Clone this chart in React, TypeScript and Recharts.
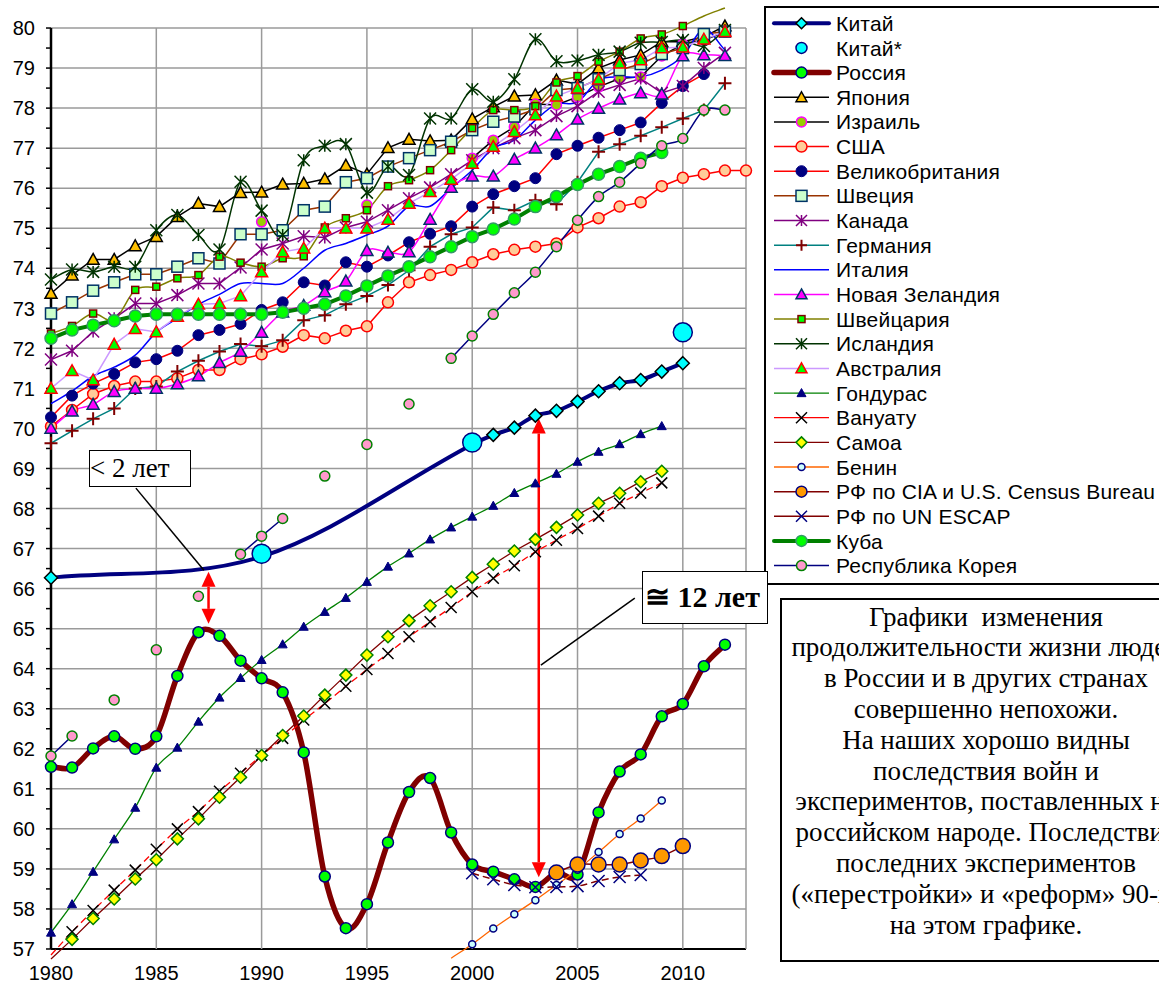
import React from "react";
import { LineChart, Line, XAxis, YAxis, CartesianGrid, ReferenceLine } from "recharts";

const FONT_SANS = "'Liberation Sans', Arial, sans-serif";
const FONT_SERIF = "'Liberation Serif', 'Times New Roman', serif";

const n = null;

// 1980 .. 2013
const YEARS = [
  1980, 1981, 1982, 1983, 1984, 1985, 1986, 1987, 1988, 1989,
  1990, 1991, 1992, 1993, 1994, 1995, 1996, 1997, 1998, 1999,
  2000, 2001, 2002, 2003, 2004, 2005, 2006, 2007, 2008, 2009,
  2010, 2011, 2012, 2013,
];

const CHINA = [66.27, n, n, n, n, n, n, n, n, n, 66.8, n, n, n, n, n, n, n, n, n, 69.6, 69.84, 70.02, 70.32, 70.44, 70.67, 70.93, 71.13, 71.21, 71.42, 71.63, n, n, n];
const CHINA_STAR = [n, n, n, n, n, n, n, n, n, n, 66.87, n, n, n, n, n, n, n, n, n, 69.65, n, n, n, n, n, n, n, n, n, 72.4, n, n, n];
const RUSSIA = [61.55, 61.53, 62.01, 62.31, 62.0, 62.31, 63.82, 64.91, 64.82, 64.2, 63.76, 63.41, 61.91, 58.81, 57.52, 58.12, 59.66, 60.92, 61.27, 59.91, 59.11, 58.93, 58.74, 58.55, 58.9, 58.86, 60.41, 61.43, 61.86, 62.81, 63.12, 64.06, 64.6, n];
const JAPAN = [73.37, 73.83, 74.22, 74.22, 74.56, 74.79, 75.29, 75.62, 75.54, 75.89, 75.9, 76.1, 76.12, 76.23, 76.57, 76.35, 77.01, 77.22, 77.18, 77.2, 77.73, 78.03, 78.3, 78.33, 78.7, 78.6, 79.0, 79.2, 79.33, 79.66, 79.66, 79.78, 80.05, n];
const ISRAEL = [n, n, n, n, n, n, n, n, n, n, 75.16, n, n, n, n, 75.58, n, n, n, n, 76.75, 77.2, 77.53, 78.1, 78.08, 78.28, 78.53, 78.74, 78.78, 79.3, 79.6, 79.7, 79.9, n];
const USA = [70.05, 70.46, 70.86, 71.06, 71.17, 71.17, 71.25, 71.46, 71.46, 71.73, 71.85, 72.04, 72.33, 72.25, 72.44, 72.55, 73.15, 73.65, 73.83, 73.96, 74.15, 74.35, 74.46, 74.54, 74.62, 75.02, 75.25, 75.54, 75.65, 76.05, 76.26, 76.35, 76.44, 76.44];
const UK = [70.28, 70.82, 71.12, 71.36, 71.65, 71.73, 71.94, 72.33, 72.46, 72.61, 72.96, 73.15, 73.65, 73.57, 74.15, 74.04, 74.32, 74.65, 74.86, 75.05, 75.54, 75.85, 76.05, 76.25, 76.85, 77.06, 77.26, 77.45, 77.64, 78.13, 78.55, 78.85, n, n];
const SWEDEN = [72.87, 73.15, 73.44, 73.65, 73.85, 73.85, 74.04, 74.25, 74.12, 74.85, 74.85, 74.95, 75.45, 75.54, 76.15, 76.25, 76.54, 76.75, 76.95, 77.16, 77.45, 77.66, 77.79, 77.97, 78.45, 78.5, 78.72, 78.95, 79.1, 79.35, 79.5, 79.85, 79.91, n];
const CANADA = [71.72, 71.94, 72.42, 72.75, 73.12, 73.12, 73.33, 73.62, 73.62, 74.02, 74.47, 74.62, 74.8, 74.77, 75.02, 75.16, 75.45, 75.75, 76.02, 76.35, 76.7, 77.0, 77.25, 77.45, 77.8, 78.05, 78.41, 78.58, 78.74, 78.38, 78.55, 79.0, 79.38, n];
const GERMANY = [69.63, 69.94, 70.24, 70.5, 71.0, 71.05, 71.42, 71.69, 71.92, 72.11, 72.05, 72.2, 72.7, 72.83, 73.1, 73.31, 73.58, 73.95, 74.54, 74.85, 75.02, 75.52, 75.45, 75.7, 75.6, 76.15, 76.91, 77.1, 77.31, 77.52, 77.74, 77.95, 78.62, n];
const ITALY = [70.62, 70.93, 71.31, 71.53, 71.83, 72.4, 72.75, 73.1, 73.35, 73.62, 73.62, 73.62, 74.0, 74.45, 74.62, 74.83, 75.05, 75.55, 75.55, 76.0, 76.45, 77.0, 77.2, 77.7, 78.1, 78.15, 78.7, 78.78, 78.78, 78.95, 79.3, 79.97, 79.45, n];
const NEW_ZEALAND = [70.0, 70.43, 70.6, 70.92, 71.0, 71.0, 71.11, 71.31, 71.64, 71.92, 72.4, 72.9, 73.07, 73.41, 73.68, 74.44, 74.4, 74.41, 75.22, 76.02, 76.3, 76.3, 76.72, 77.0, 77.33, 77.72, 77.99, 78.22, 78.38, 78.35, 79.3, 79.33, 79.31, n];
const SWISS = [72.37, 72.56, 72.87, 72.71, 73.46, 73.54, 73.75, 73.83, 74.29, 74.14, 74.04, 74.25, 74.3, 75.02, 75.25, 75.45, 76.05, 76.2, 76.45, 76.95, 77.5, 77.95, 77.95, 78.05, 78.64, 78.8, 79.16, 79.41, 79.74, 79.84, 80.05, 80.3, 80.5, n];
const ICELAND = [73.72, 73.97, 73.91, 74.04, 74.04, 74.95, 75.33, 74.83, 74.47, 76.16, 75.44, 74.83, 76.7, 77.06, 77.1, 75.89, 76.54, 76.33, 77.74, 77.74, 78.47, 78.16, 78.72, 79.72, 79.17, 79.19, 79.33, 79.41, 79.63, 79.65, 79.7, 79.55, 79.95, n];
const AUSTRALIA = [71.0, 71.44, 71.21, 72.1, 72.49, 72.41, 72.8, 73.1, 73.12, 73.31, 73.91, 74.41, 74.5, 75.0, 75.0, 75.0, 75.22, 75.62, 75.91, 76.22, 76.62, 77.04, 77.41, 77.83, 78.3, 78.5, 78.72, 79.12, 79.2, 79.5, 79.52, 79.72, 79.91, n];
const HONDURAS = [57.41, 58.12, 58.93, 59.74, 60.53, 61.53, 62.03, 62.68, 63.28, 63.77, 64.22, 64.61, 65.05, 65.42, 65.77, 66.17, 66.55, 66.88, 67.23, 67.53, 67.8, 68.07, 68.39, 68.63, 68.87, 69.17, 69.42, 69.61, 69.86, 70.06, n, n, n, n];
const VANUATU = [56.85, 57.43, 57.96, 58.47, 58.97, 59.49, 60.0, 60.43, 60.94, 61.39, 61.84, 62.26, 62.72, 63.13, 63.56, 63.98, 64.38, 64.8, 65.17, 65.53, 65.92, 66.26, 66.57, 66.92, 67.21, 67.5, 67.81, 68.13, 68.39, 68.64, n, n, n, n];
const SAMOA = [56.75, 57.24, 57.76, 58.25, 58.75, 59.23, 59.75, 60.25, 60.79, 61.29, 61.83, 62.33, 62.82, 63.34, 63.84, 64.34, 64.8, 65.2, 65.57, 65.92, 66.28, 66.61, 66.94, 67.23, 67.53, 67.84, 68.13, 68.38, 68.67, 68.93, n, n, n, n];
const BENIN = [n, n, n, n, n, n, n, n, n, n, n, n, n, n, n, n, n, n, n, 56.77, 57.12, 57.51, 57.87, 58.22, 58.6, 58.98, 59.42, 59.87, 60.26, 60.71, n, n, n, n];
const RF_CIA = [n, n, n, n, n, n, n, n, n, n, n, n, n, n, n, n, n, n, n, n, n, n, n, n, 58.91, 59.11, 59.11, 59.11, 59.21, 59.32, 59.57, n, n, n];
const RF_UN = [n, n, n, n, n, n, n, n, n, n, n, n, n, n, n, n, n, n, n, n, 58.89, 58.74, 58.6, 58.54, 58.55, 58.57, 58.7, 58.8, 58.85, n, n, n, n, n];
const CUBA = [72.25, 72.46, 72.58, 72.69, 72.81, 72.85, 72.85, 72.85, 72.85, 72.85, 72.85, 72.9, 73.0, 73.1, 73.31, 73.56, 73.81, 74.04, 74.29, 74.54, 74.79, 74.98, 75.23, 75.54, 75.79, 76.09, 76.35, 76.54, 76.75, 76.89, n, n, n, n];
const KOREA = [61.82, 62.32, n, 63.22, n, 64.47, n, 65.81, n, 66.86, 67.31, 67.75, n, 68.81, n, 69.6, n, 70.61, n, 71.75, 72.31, 72.85, 73.39, 73.9, 74.54, 75.2, 75.79, 76.15, 76.62, 77.06, 77.24, 77.95, 77.95, n];

const Y_MIN = 56.6;
const Y_MAX = 80.7;
const Y_GRID = [57, 58, 59, 60, 61, 62, 63, 64, 65, 66, 67, 68, 69, 70, 71, 72, 73, 74, 75, 76, 77, 78, 79, 80];
const Y_TICKS = Y_GRID.flatMap((v) => (v < 80 ? [v, v + 0.5] : [v]));
const X_TICKS = [1980, 1985, 1990, 1995, 2000, 2005, 2010];
const X_GRID = [1980, 1985, 1990, 1995, 2000, 2005, 2010, 2013];

// annotation anchors, in data units
const ARROW_SHORT = [{ x: 1987.48, y: 66.42 }, { x: 1987.48, y: 65.12 }];
const ARROW_LONG = [{ x: 2003.16, y: 70.25 }, { x: 2003.16, y: 58.79 }];
const LEADER_SHORT = [{ x: 1984.03, y: 68.51 }, { x: 1987.26, y: 66.46 }];
const LEADER_LONG = [{ x: 2007.72, y: 65.76 }, { x: 2003.26, y: 64.09 }];

const NOTE_LINES = [
  "Графики  изменения",
  "продолжительности жизни людей",
  "в России и в других странах",
  "совершенно непохожи.",
  "На наших хорошо видны",
  "последствия войн и",
  "экспериментов, поставленных на",
  "российском народе. Последствия",
  "последних экспериментов",
  "(«перестройки» и «реформ» 90-х)",
  "на этом графике.",
];

type MarkerKind = "circle" | "diamond" | "triangle" | "square" | "x" | "plus" | "star";
interface Mk {
  kind: MarkerKind;
  size: number;
  fill: string;
  stroke: string;
  sw: number;
}
interface Series {
  key: string;
  name: string;
  values: (number | null)[];
  stroke: string;
  width: number;
  dash?: string;
  smooth?: boolean;
  connect?: boolean;
  noLine?: boolean;
  marker?: Mk;
}

const SERIES: Series[] = [
  { key: "china", name: "Китай", values: CHINA, stroke: "#000080", width: 4, smooth: true, connect: true, marker: { kind: "diamond", size: 13, fill: "#00ffff", stroke: "#000000", sw: 1.5 } },
  { key: "chinaStar", name: "Китай*", values: CHINA_STAR, stroke: "none", width: 0, noLine: true, marker: { kind: "circle", size: 19, fill: "#00ffff", stroke: "#000080", sw: 1.5 } },
  { key: "russia", name: "Россия", values: RUSSIA, stroke: "#800000", width: 5.5, smooth: true, marker: { kind: "circle", size: 11, fill: "#00ff00", stroke: "#000080", sw: 1.5 } },
  { key: "japan", name: "Япония", values: JAPAN, stroke: "#000000", width: 1.5, marker: { kind: "triangle", size: 12, fill: "#ffc000", stroke: "#000000", sw: 1.5 } },
  { key: "israel", name: "Израиль", values: ISRAEL, stroke: "#000000", width: 1.5, marker: { kind: "circle", size: 10, fill: "#99cc00", stroke: "#ff00ff", sw: 1.5 } },
  { key: "usa", name: "США", values: USA, stroke: "#ff0000", width: 1.5, marker: { kind: "circle", size: 11, fill: "#ffcc99", stroke: "#ff0000", sw: 1.5 } },
  { key: "uk", name: "Великобритания", values: UK, stroke: "#ff0000", width: 1.5, marker: { kind: "circle", size: 11, fill: "#000080", stroke: "#000080", sw: 1 } },
  { key: "sweden", name: "Швеция", values: SWEDEN, stroke: "#993300", width: 1.5, marker: { kind: "square", size: 11, fill: "#ccffcc", stroke: "#003366", sw: 1.5 } },
  { key: "canada", name: "Канада", values: CANADA, stroke: "#800080", width: 1.5, marker: { kind: "star", size: 12, fill: "none", stroke: "#800080", sw: 1.5 } },
  { key: "germany", name: "Германия", values: GERMANY, stroke: "#008080", width: 1.5, marker: { kind: "plus", size: 13, fill: "none", stroke: "#800000", sw: 2 } },
  { key: "italy", name: "Италия", values: ITALY, stroke: "#0000ff", width: 1.5, smooth: true },
  { key: "nz", name: "Новая Зеландия", values: NEW_ZEALAND, stroke: "#ff00ff", width: 1.5, smooth: true, marker: { kind: "triangle", size: 12, fill: "#ff00ff", stroke: "#003366", sw: 1.5 } },
  { key: "swiss", name: "Швейцария", values: SWISS, stroke: "#808000", width: 1.5, smooth: true, marker: { kind: "square", size: 7, fill: "#00ff00", stroke: "#800000", sw: 1.5 } },
  { key: "iceland", name: "Исландия", values: ICELAND, stroke: "#003300", width: 1.5, smooth: true, marker: { kind: "star", size: 12, fill: "none", stroke: "#003300", sw: 1.5 } },
  { key: "australia", name: "Австралия", values: AUSTRALIA, stroke: "#cc99ff", width: 1.5, marker: { kind: "triangle", size: 12, fill: "#00ff00", stroke: "#ff0000", sw: 1.5 } },
  { key: "honduras", name: "Гондурас", values: HONDURAS, stroke: "#008000", width: 1.3, smooth: true, marker: { kind: "triangle", size: 9, fill: "#000080", stroke: "#000080", sw: 1 } },
  { key: "vanuatu", name: "Вануату", values: VANUATU, stroke: "#ff0000", width: 1.3, dash: "7 4", marker: { kind: "x", size: 11, fill: "none", stroke: "#000000", sw: 1.5 } },
  { key: "samoa", name: "Самоа", values: SAMOA, stroke: "#800000", width: 1.3, marker: { kind: "diamond", size: 12, fill: "#ffff00", stroke: "#008000", sw: 1.5 } },
  { key: "benin", name: "Бенин", values: BENIN, stroke: "#ff6600", width: 1.3, smooth: true, marker: { kind: "circle", size: 7, fill: "#ccffff", stroke: "#000080", sw: 1.5 } },
  { key: "rfCia", name: "РФ по CIA и U.S. Census Bureau", values: RF_CIA, stroke: "#800000", width: 1.5, smooth: true, marker: { kind: "circle", size: 15, fill: "#ff9900", stroke: "#000080", sw: 1.5 } },
  { key: "rfUn", name: "РФ по UN ESCAP", values: RF_UN, stroke: "#800000", width: 1.5, dash: "7 4", smooth: true, marker: { kind: "x", size: 12, fill: "none", stroke: "#000080", sw: 1.5 } },
  { key: "cuba", name: "Куба", values: CUBA, stroke: "#008000", width: 4, marker: { kind: "circle", size: 12, fill: "#00ff00", stroke: "#339966", sw: 1.5 } },
  { key: "korea", name: "Республика Корея", values: KOREA, stroke: "#000080", width: 1.5, smooth: true, marker: { kind: "circle", size: 10, fill: "#ff99cc", stroke: "#008000", sw: 1.5 } },
];

const rows = YEARS.map((year, i) => {
  const r: Record<string, number | null> = { year };
  SERIES.forEach((s) => {
    r[s.key] = s.values[i];
  });
  return r;
});

// Excel-like smoothed line (cubic Hermite with centred slopes)
function excelSmooth(context: any) {
  let pts: number[][] = [];
  return {
    areaStart() {},
    areaEnd() {},
    lineStart() {
      pts = [];
    },
    point(x: number, y: number) {
      pts.push([+x, +y]);
    },
    lineEnd() {
      const len = pts.length;
      if (!len) return;
      context.moveTo(pts[0][0], pts[0][1]);
      if (len === 1) return;
      const m = pts.map((_, i) => {
        const a = pts[Math.max(0, i - 1)];
        const b = pts[Math.min(len - 1, i + 1)];
        return (b[1] - a[1]) / (b[0] - a[0]);
      });
      for (let i = 0; i < len - 1; i++) {
        const [x0, y0] = pts[i];
        const [x1, y1] = pts[i + 1];
        const h = (x1 - x0) / 3;
        context.bezierCurveTo(x0 + h, y0 + m[i] * h, x1 - h, y1 - m[i + 1] * h, x1, y1);
      }
    },
  };
}

function MarkerShape({ m, cx, cy }: { m: Mk; cx: number; cy: number }) {
  const h = m.size / 2;
  const common = { fill: m.fill, stroke: m.stroke, strokeWidth: m.sw };
  switch (m.kind) {
    case "circle":
      return <circle cx={cx} cy={cy} r={h} {...common} />;
    case "diamond":
      return <polygon points={`${cx},${cy - h} ${cx + h},${cy} ${cx},${cy + h} ${cx - h},${cy}`} {...common} />;
    case "triangle":
      return <polygon points={`${cx},${cy - h} ${cx + h},${cy + h * 0.8} ${cx - h},${cy + h * 0.8}`} {...common} />;
    case "square":
      return <rect x={cx - h} y={cy - h} width={m.size} height={m.size} {...common} />;
    case "x":
      return (
        <path d={`M${cx - h},${cy - h}L${cx + h},${cy + h}M${cx - h},${cy + h}L${cx + h},${cy - h}`} fill="none" stroke={m.stroke} strokeWidth={m.sw} />
      );
    case "plus":
      return <path d={`M${cx - h},${cy}L${cx + h},${cy}M${cx},${cy - h}L${cx},${cy + h}`} fill="none" stroke={m.stroke} strokeWidth={m.sw} />;
    case "star":
      return (
        <path
          d={`M${cx - h},${cy - h}L${cx + h},${cy + h}M${cx - h},${cy + h}L${cx + h},${cy - h}M${cx},${cy - h}L${cx},${cy + h}`}
          fill="none"
          stroke={m.stroke}
          strokeWidth={m.sw}
        />
      );
    default:
      return null;
  }
}

// markers outside the 57..80 frame are not drawn (lines still run past it)
const makeDot = (s: Series) => (p: any) => {
  const key = p.key ?? `${s.key}-${p.index}`;
  const v = p.payload ? p.payload[s.key] : null;
  if (v == null || v < Y_GRID[0] || v > 80.1 || p.cy == null || !Number.isFinite(p.cy)) return <g key={key} />;
  return (
    <g key={key}>
      <MarkerShape m={s.marker as Mk} cx={p.cx} cy={p.cy} />
    </g>
  );
};

// grid: gray lines limited to 57..80, black axis lines at 57 and 1980
const hLine = (p: any) => {
  const axis = Y_GRID[p.index] === 57;
  return <line key={p.key} x1={p.x1} x2={p.x2} y1={p.y1} y2={p.y2} stroke={axis ? "#000" : "#9a9a9a"} strokeWidth={axis ? 2 : 1.5} />;
};
const vLine = (p: any) => {
  const axis = X_GRID[p.index] === 1980;
  const span = p.y2 - p.y1;
  const top = p.y1 + ((Y_MAX - 80) / (Y_MAX - Y_MIN)) * span;
  const bottom = p.y1 + ((Y_MAX - 57) / (Y_MAX - Y_MIN)) * span;
  return <line key={p.key} x1={p.x1} x2={p.x2} y1={top} y2={bottom} stroke={axis ? "#000" : "#9a9a9a"} strokeWidth={axis ? 2.5 : 1.5} />;
};

const XTick = (p: any) => (
  <text x={p.x} y={p.y + 15} textAnchor="middle" fontSize={20} fill="#000">
    {p.payload.value}
  </text>
);
const YTick = (p: any) =>
  Number.isInteger(p.payload.value) ? (
    <text x={p.x} y={p.y} dy="0.36em" textAnchor="end" fontSize={20} fill="#000">
      {p.payload.value}
    </text>
  ) : (
    <g />
  );

const DoubleArrow = (p: any) => {
  const { x1, y1, x2, y2 } = p;
  const len = 15;
  const half = 7;
  const L = Math.hypot(x2 - x1, y2 - y1) || 1;
  const ux = (x2 - x1) / L;
  const uy = (y2 - y1) / L;
  const nx = -uy;
  const ny = ux;
  const head = (tx: number, ty: number, dir: number) => {
    const bx = tx - dir * ux * len;
    const by = ty - dir * uy * len;
    return `${tx},${ty} ${bx + nx * half},${by + ny * half} ${bx - nx * half},${by - ny * half}`;
  };
  return (
    <g>
      <line x1={x1 + ux * len} y1={y1 + uy * len} x2={x2 - ux * len} y2={y2 - uy * len} stroke="#ff0000" strokeWidth={2.5} />
      <polygon points={head(x1, y1, -1)} fill="#ff0000" />
      <polygon points={head(x2, y2, 1)} fill="#ff0000" />
    </g>
  );
};

function LegendBox() {
  return (
    <div
      style={{
        position: "absolute",
        left: 764,
        top: 6,
        width: 440,
        height: 579,
        border: "2px solid #000",
        background: "#fff",
        boxSizing: "border-box",
      }}
    >
      <svg width={436} height={575} style={{ display: "block" }}>
        {SERIES.map((s, i) => {
          const cy = 15.3 + 24.65 * i;
          return (
            <g key={s.key}>
              {!s.noLine && <line x1={8} x2={63} y1={cy} y2={cy} stroke={s.stroke} strokeWidth={s.width} strokeLinecap={s.width > 3 ? "round" : "butt"} />}
              {s.marker && <MarkerShape m={{ ...s.marker, size: Math.min(s.marker.size, 11) }} cx={35.5} cy={cy} />}
              <text x={70} y={cy} dy="0.36em" fontSize={21} fontFamily={FONT_SANS} letterSpacing={0.2} fill="#000">
                {s.name}
              </text>
            </g>
          );
        })}
      </svg>
    </div>
  );
}

function NoteBox() {
  return (
    <div
      style={{
        position: "absolute",
        left: 780,
        top: 598,
        width: 412,
        height: 364,
        border: "2px solid #000",
        background: "#fff",
        boxSizing: "border-box",
        paddingTop: 1.6,
        fontFamily: FONT_SERIF,
        fontSize: 27,
        color: "#000",
      }}
    >
      {NOTE_LINES.map((t) => (
        <div key={t} style={{ display: "flex", justifyContent: "center", height: 30.8, lineHeight: "30.8px", whiteSpace: "pre" }}>
          {t}
        </div>
      ))}
    </div>
  );
}

export default function App() {
  return (
    <div
      style={{
        position: "fixed",
        left: 0,
        top: 0,
        width: 1159,
        height: 985,
        overflow: "hidden",
        background: "#fff",
        fontFamily: FONT_SANS,
      }}
    >
      <div style={{ position: "absolute", left: 0, top: 0 }}>
        <LineChart width={760} height={985} data={rows} margin={{ top: 0, right: 14, bottom: 0, left: 0 }}>
          <CartesianGrid horizontalValues={Y_GRID} verticalValues={X_GRID} horizontal={hLine} vertical={vLine} />
          <XAxis
            dataKey="year"
            type="number"
            domain={[1980, 2013]}
            ticks={X_TICKS}
            interval={0}
            axisLine={false}
            tickLine={false}
            tickSize={0}
            tickMargin={0}
            height={20}
            tick={XTick}
          />
          <YAxis
            type="number"
            domain={[Y_MIN, Y_MAX]}
            ticks={Y_TICKS}
            interval={0}
            width={51}
            axisLine={false}
            tickLine={{ stroke: "#000", strokeWidth: 1.5 }}
            tickSize={5}
            tickMargin={11}
            tick={YTick}
          />
          {SERIES.map((s) => (
            <Line
              key={s.key}
              dataKey={s.key}
              name={s.name}
              stroke={s.stroke}
              strokeWidth={s.width}
              strokeDasharray={s.dash}
              type={s.smooth ? (excelSmooth as any) : "linear"}
              connectNulls={!!s.connect}
              dot={s.marker ? makeDot(s) : false}
              activeDot={false}
              isAnimationActive={false}
            />
          ))}
          <ReferenceLine segment={LEADER_SHORT} stroke="#000" strokeWidth={1.5} />
          <ReferenceLine segment={LEADER_LONG} stroke="#000" strokeWidth={1.5} />
          <ReferenceLine segment={ARROW_SHORT} shape={DoubleArrow} />
          <ReferenceLine segment={ARROW_LONG} shape={DoubleArrow} />
        </LineChart>
      </div>
      <LegendBox />
      <NoteBox />
      <div
        style={{
          position: "absolute",
          left: 89,
          top: 450,
          width: 102,
          height: 37,
          border: "1.5px solid #000",
          background: "#fff",
          boxSizing: "border-box",
          fontFamily: FONT_SERIF,
          fontSize: 27,
          lineHeight: "34px",
          paddingLeft: 0,
          whiteSpace: "nowrap",
        }}
      >
        {"< 2 лет"}
      </div>
      <div
        style={{
          position: "absolute",
          left: 642,
          top: 571,
          width: 126,
          height: 53,
          border: "1.5px solid #000",
          background: "#fff",
          boxSizing: "border-box",
          fontFamily: FONT_SERIF,
          fontSize: 30,
          fontWeight: "bold",
          lineHeight: "50px",
          paddingLeft: 2,
          whiteSpace: "nowrap",
        }}
      >
        {"≅ 12 лет"}
      </div>
    </div>
  );
}
